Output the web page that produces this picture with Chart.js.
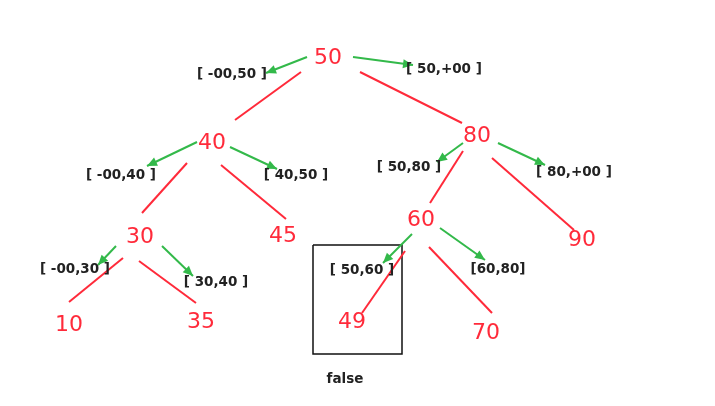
<!DOCTYPE html>
<html>
<head>
<meta charset="utf-8">
<script src="https://cdn.jsdelivr.net/npm/chart.js@4.4.1/dist/chart.umd.min.js"></script>
<style>
    html, body { margin: 0; padding: 0; background: #fff; }
    #tree { display: block; }
</style>
</head>
<body>
<canvas id="tree" width="715" height="406"></canvas>
<script>
// node values and where they sit in the plane
const nodeLabels = ['50', '40', '80', '30', '45', '60', '90', '10', '35', '49', '70'];
const nodeX = [328, 212, 477, 140, 283, 421, 582, 69, 201, 352, 486];
const nodeY = [58, 143, 136, 237, 236, 220, 240, 325, 322, 322, 333];

// red tree edges (start / end)
const edgeX1 = [301, 360, 187, 221, 123, 139, 463, 492, 405, 429];
const edgeY1 = [72, 72, 163, 165, 258, 261, 151, 158, 251, 247];
const edgeX2 = [235, 462, 142, 286, 69, 196, 430, 574, 362, 492];
const edgeY2 = [120, 123, 213, 219, 302, 303, 203, 230, 313, 313];

// green arrows pointing to the intervals
const arrowX1 = [307, 353, 197, 230, 116, 162, 463, 498, 412, 440];
const arrowY1 = [57, 57, 142, 147, 246, 246, 143, 143, 234, 228];
const arrowX2 = [266, 413, 147, 277, 98, 193, 437, 545, 383, 485];
const arrowY2 = [73, 65, 166, 169, 265, 276, 162, 165, 263, 260];

// interval labels
const intervalLabels = ['[ -00,50 ]', '[ 50,+00 ]', '[ -00,40 ]', '[ 40,50 ]', '[ -00,30 ]',
    '[ 30,40 ]', '[ 50,80 ]', '[ 80,+00 ]', '[ 50,60 ]', '[60,80]'];
const intervalX = [232, 444, 121, 296, 75, 216, 409, 574, 362, 498];
const intervalY = [74, 69, 175, 175, 269, 282, 167, 172, 270, 269];

// search result box and caption
const boxX = [313, 402, 402, 313, 313];
const boxY = [245, 245, 354, 354, 245];
const resultLabel = 'false';
const resultX = 345;
const resultY = 379;

const RED = '#ff2a3a';
const GREEN = '#33b94a';
const DARK = '#222';

const datasets = [];
edgeX1.forEach((x, i) => {
    datasets.push({
        data: [{x: x, y: edgeY1[i]}, {x: edgeX2[i], y: edgeY2[i]}],
        showLine: true, borderColor: RED, borderWidth: 2, pointRadius: 0
    });
});
arrowX1.forEach((x, i) => {
    datasets.push({
        data: [{x: x, y: arrowY1[i]}, {x: arrowX2[i], y: arrowY2[i]}],
        showLine: true, borderColor: GREEN, borderWidth: 2, pointRadius: 0
    });
});
datasets.push({
    data: boxX.map((x, i) => ({x: x, y: boxY[i]})),
    showLine: true, borderColor: '#111', borderWidth: 1.5, pointRadius: 0
});

const treePlugin = {
    id: 'treePlugin',
    afterDatasetsDraw(chart) {
        const ctx = chart.ctx;
        const xs = chart.scales.x;
        const ys = chart.scales.y;
        ctx.save();

        // arrow heads
        ctx.fillStyle = GREEN;
        arrowX2.forEach((x, i) => {
            const px = xs.getPixelForValue(x);
            const py = ys.getPixelForValue(arrowY2[i]);
            const sx = xs.getPixelForValue(arrowX1[i]);
            const sy = ys.getPixelForValue(arrowY1[i]);
            const a = Math.atan2(py - sy, px - sx);
            const len = 10, half = 4.5;
            ctx.beginPath();
            ctx.moveTo(px, py);
            ctx.lineTo(px - len * Math.cos(a) + half * Math.sin(a), py - len * Math.sin(a) - half * Math.cos(a));
            ctx.lineTo(px - len * Math.cos(a) - half * Math.sin(a), py - len * Math.sin(a) + half * Math.cos(a));
            ctx.closePath();
            ctx.fill();
        });

        ctx.textAlign = 'center';
        ctx.textBaseline = 'middle';

        ctx.fillStyle = RED;
        ctx.font = '22px "DejaVu Sans"';
        nodeLabels.forEach((t, i) => {
            ctx.fillText(t, xs.getPixelForValue(nodeX[i]), ys.getPixelForValue(nodeY[i]));
        });

        ctx.fillStyle = DARK;
        ctx.font = 'bold 13.5px "DejaVu Sans"';
        intervalLabels.forEach((t, i) => {
            ctx.fillText(t, xs.getPixelForValue(intervalX[i]), ys.getPixelForValue(intervalY[i]));
        });
        ctx.fillText(resultLabel, xs.getPixelForValue(resultX), ys.getPixelForValue(resultY));

        ctx.restore();
    }
};

new Chart(document.getElementById('tree'), {
    type: 'scatter',
    data: {datasets: datasets},
    options: {
        responsive: false,
        animation: false,
        layout: {padding: 0},
        plugins: {legend: {display: false}, tooltip: {enabled: false}},
        scales: {
            x: {type: 'linear', min: 0, max: 715, display: false},
            y: {type: 'linear', min: 0, max: 406, reverse: true, display: false}
        }
    },
    plugins: [treePlugin]
});
</script>
</body>
</html>
